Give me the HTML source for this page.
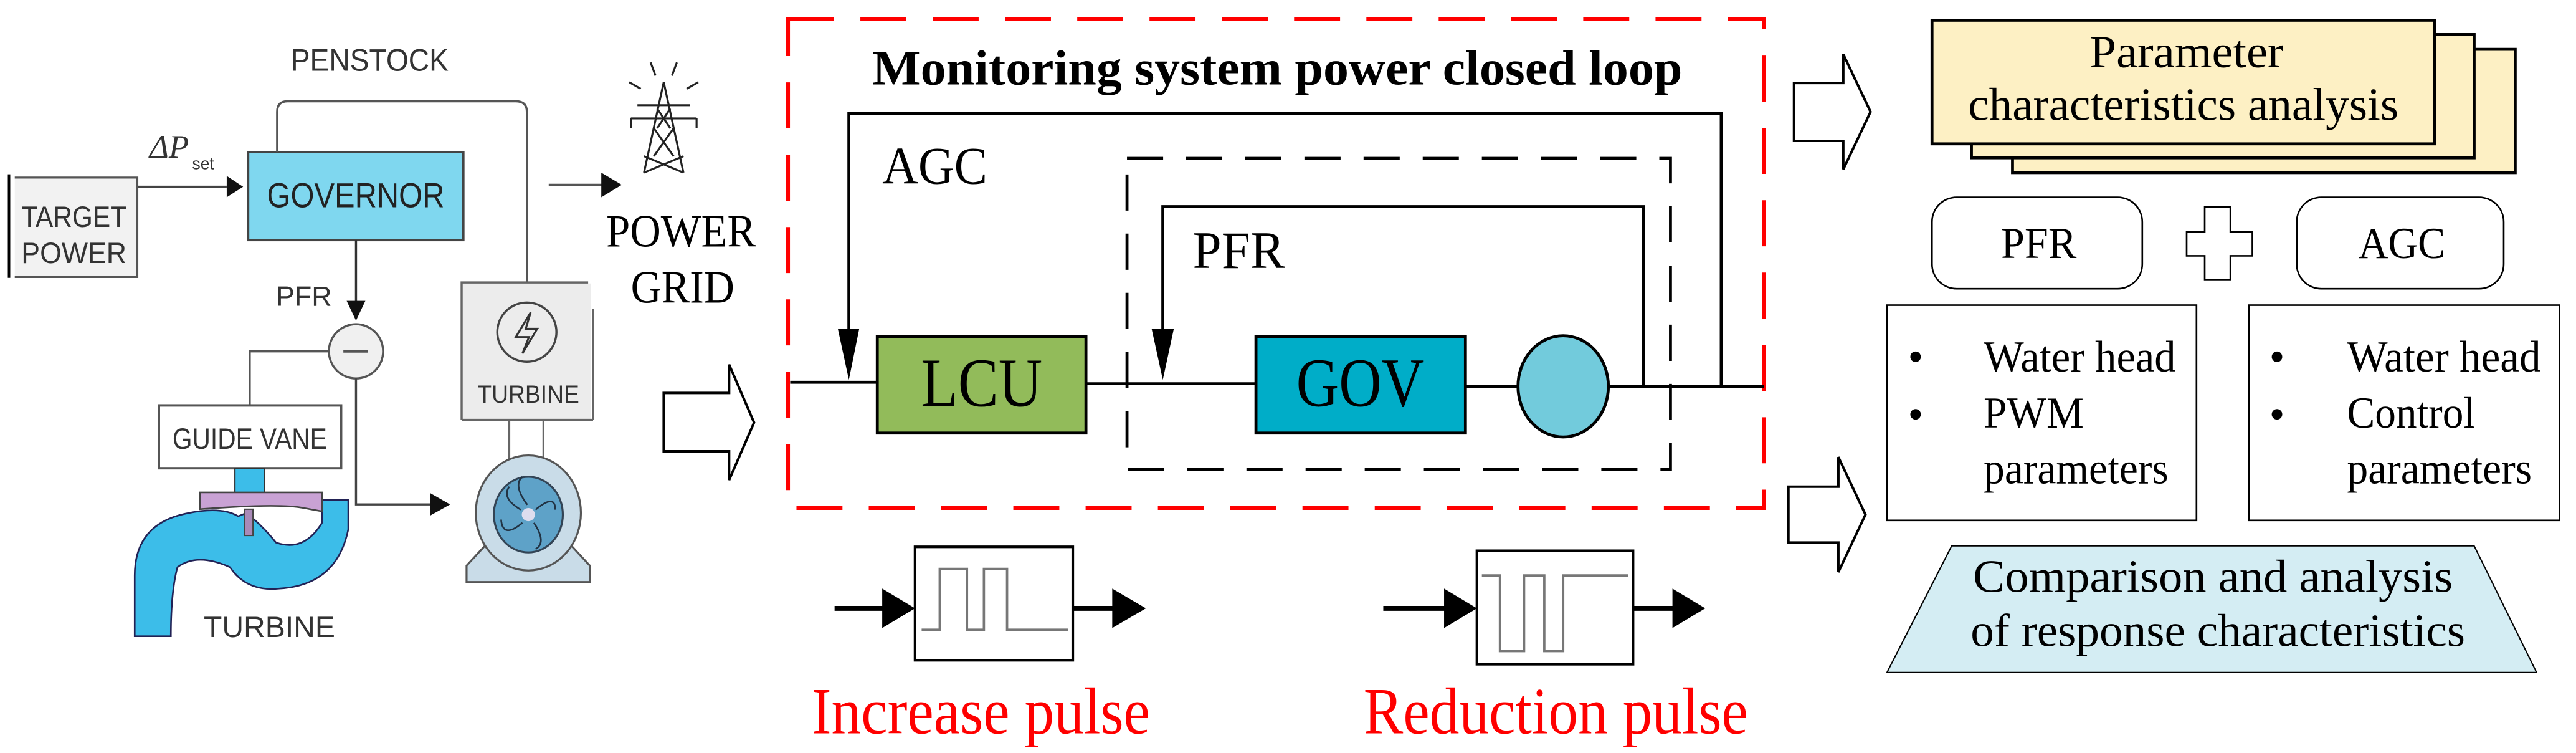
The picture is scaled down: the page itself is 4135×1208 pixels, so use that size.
<!DOCTYPE html>
<html><head><meta charset="utf-8"><style>
html,body{margin:0;padding:0;background:#fff;}
svg{display:block;}
</style></head><body>
<svg width="4135" height="1208" viewBox="0 0 1568 458" preserveAspectRatio="none" xmlns="http://www.w3.org/2000/svg">
<!-- LEFT SECTION -->
<g font-family="'Liberation Sans', sans-serif" fill="#333">
<line x1="5.5" y1="106" x2="5.5" y2="169" stroke="#000" stroke-width="1.5"/>
<path d="M9 108 H83.6 V168.5 H9" fill="#f2f2f2" stroke="#555" stroke-width="1.2"/>
<text x="45" y="138" font-size="18" text-anchor="middle" textLength="64" lengthAdjust="spacingAndGlyphs">TARGET</text>
<text x="45" y="160" font-size="18" text-anchor="middle" textLength="64" lengthAdjust="spacingAndGlyphs">POWER</text>
<text x="91" y="96" font-family="'Liberation Serif', serif" font-style="italic" font-size="20">ΔP</text>
<text x="117" y="103" font-size="10">set</text>
<line x1="84" y1="113.6" x2="138" y2="113.6" stroke="#444" stroke-width="1.3"/>
<path d="M138 107 L148 113.6 L138 120z" fill="#111"/>
<rect x="151" y="92.5" width="131" height="53.5" fill="#7fd7ef" stroke="#444" stroke-width="1.5"/>
<text x="216.5" y="126" font-size="21" text-anchor="middle" textLength="108" lengthAdjust="spacingAndGlyphs" fill="#222">GOVERNOR</text>
<path d="M168.7 92.5 V68 Q168.7 61.6 175 61.6 H314 Q320.7 61.6 320.7 68 V171.8" fill="none" stroke="#555" stroke-width="1.3"/>
<text x="225" y="43" font-size="19" text-anchor="middle" textLength="96" lengthAdjust="spacingAndGlyphs">PENSTOCK</text>
<line x1="334" y1="112.4" x2="368" y2="112.4" stroke="#555" stroke-width="1.3"/>
<path d="M366 105 L378.5 112.4 L366 120z" fill="#111"/>
<g stroke="#222" stroke-width="1.2" fill="none">
<path d="M392 105 L404 50 L416 105"/>
<path d="M398 78 L410 95 M410 78 L398 95 M400 66 L408 78 M408 66 L400 78 M392 105 L416 95 M416 105 L392 95"/>
<path d="M384 72 H424 M384 72 V78 M424 72 V78 M388 64 H420"/>
<path d="M396 38 L399 46 M412 38 L409 46 M383 50 L390 54 M425 50 L418 54"/>
</g>
<text x="369" y="150" font-family="'Liberation Serif', serif" fill="#000" font-size="28" textLength="91" lengthAdjust="spacingAndGlyphs">POWER</text>
<text x="384" y="184" font-family="'Liberation Serif', serif" fill="#000" font-size="28" textLength="63" lengthAdjust="spacingAndGlyphs">GRID</text>
<line x1="216.7" y1="146" x2="216.7" y2="186" stroke="#333" stroke-width="1.3"/>
<path d="M211 183 L216.7 195 L222.4 183z" fill="#111"/>
<text x="185" y="186" font-size="17" text-anchor="middle">PFR</text>
<ellipse cx="216.7" cy="213.7" rx="16.5" ry="16.5" fill="#f0f0f0" stroke="#555" stroke-width="1.3"/>
<line x1="209" y1="213.7" x2="224" y2="213.7" stroke="#555" stroke-width="1.6"/>
<path d="M200 213.7 H152 V246.6" fill="none" stroke="#555" stroke-width="1.3"/>
<rect x="96.7" y="246.6" width="110.9" height="38.2" fill="#fff" stroke="#555" stroke-width="1.5"/>
<text x="152" y="273" font-size="18" text-anchor="middle" textLength="94" lengthAdjust="spacingAndGlyphs">GUIDE VANE</text>
<path d="M216.7 230.2 V306.8 H262" fill="none" stroke="#444" stroke-width="1.3"/>
<path d="M262 300 L274 306.8 L262 313.5z" fill="#111"/>
<rect x="281.6" y="172.4" width="78" height="82.5" fill="#ececec"/>
<path d="M281 255.4 V171.8 H358" fill="none" stroke="#666" stroke-width="1.3"/>
<line x1="361" y1="188" x2="361" y2="255.4" stroke="#666" stroke-width="1.3"/>
<line x1="281" y1="255.4" x2="361" y2="255.4" stroke="#666" stroke-width="1.3"/>
<circle cx="320.7" cy="202" r="18" fill="none" stroke="#444" stroke-width="1.3"/>
<path d="M323 190 L314 205 H322 L318 215 L327 200 H320 Z" fill="none" stroke="#333" stroke-width="1.2"/>
<text x="321.6" y="245" font-size="15" text-anchor="middle" textLength="62" lengthAdjust="spacingAndGlyphs">TURBINE</text>
<rect x="310" y="255.4" width="20.8" height="24" fill="#fff" stroke="#666" stroke-width="1.2"/>
<path d="M284 354 V344 L297 330 H346 L359 344 V354 Z" fill="#c9dce8" stroke="#555" stroke-width="1.2"/>
<ellipse cx="321.6" cy="312" rx="32" ry="35" fill="#c9dce8" stroke="#555" stroke-width="1.2"/>
<ellipse cx="321.6" cy="313" rx="21" ry="23" fill="#5ea2c8" stroke="#345" stroke-width="1.2"/>
<g stroke="#234" stroke-width="1" fill="none">
<path d="M321 307 Q312 295 318 290 M326 310 Q338 300 338 310 M325 318 Q333 330 326 334 M318 318 Q306 328 305 316 M317 310 Q305 303 310 296"/>
</g>
<circle cx="321.6" cy="313" r="4" fill="#dde"/>
<path d="M82 387 V350 Q82 318 115 312 Q135 308 145 314 L150 312 Q160 320 168 330 Q185 336 196 318 V304 H212 V322 Q205 356 170 358 Q150 360 140 345 Q120 336 108 345 Q104 360 104 387 Z" fill="#3cbde9" stroke="#225" stroke-width="1"/>
<rect x="143" y="284.8" width="18" height="15" fill="#3cbde9" stroke="#333" stroke-width="0.8"/>
<path d="M121.6 299.5 H196 V311 L185 309 Q170 306 121.6 309.7 Z" fill="#c9a2d4" stroke="#444" stroke-width="1"/>
<rect x="149" y="309.7" width="5" height="16" fill="#a98ab8" stroke="#444" stroke-width="0.8"/>
<text x="164" y="387.5" font-size="18" text-anchor="middle" textLength="80" lengthAdjust="spacingAndGlyphs">TURBINE</text>
</g>
<path d="M404 239 H443.8 V221.7 L459 257 L443.8 292 V274.5 H404 Z" fill="#fff" stroke="#000" stroke-width="1.5"/>

<!-- MIDDLE SECTION -->
<g font-family="'Liberation Serif', serif" fill="#000">
<rect x="479.7" y="11.7" width="593.9" height="297.3" fill="none" stroke="#ff0000" stroke-width="2.3" stroke-dasharray="28,16"/>
<text x="531" y="51.4" font-size="30" font-weight="bold" textLength="493" lengthAdjust="spacingAndGlyphs">Monitoring system power closed loop</text>
<rect x="686" y="96.3" width="330.8" height="189.1" fill="none" stroke="#000" stroke-width="1.8" stroke-dasharray="22,14"/>
<path d="M516.7 212 V69 H1047.7 V235" fill="none" stroke="#000" stroke-width="1.8"/>
<path d="M510 200 L516.7 231 L523 200 z" fill="#000"/>
<text x="537" y="111.6" font-size="32" textLength="64" lengthAdjust="spacingAndGlyphs">AGC</text>
<path d="M707.8 212 V125.7 H1000.4 V235" fill="none" stroke="#000" stroke-width="1.8"/>
<path d="M701 200 L707.8 231 L714.5 200 z" fill="#000"/>
<text x="726" y="163" font-size="32" textLength="56" lengthAdjust="spacingAndGlyphs">PFR</text>
<line x1="481" y1="232.5" x2="534" y2="232.5" stroke="#000" stroke-width="1.8"/>
<line x1="661" y1="233.4" x2="764.5" y2="233.4" stroke="#000" stroke-width="1.8"/>
<line x1="892" y1="235" x2="924" y2="235" stroke="#000" stroke-width="1.8"/>
<line x1="979" y1="235" x2="1073.6" y2="235" stroke="#000" stroke-width="1.8"/>
<rect x="534" y="204.6" width="127" height="58.8" fill="#92bb5a" stroke="#000" stroke-width="1.8"/>
<text x="597.5" y="247" font-size="42" text-anchor="middle" textLength="74" lengthAdjust="spacingAndGlyphs">LCU</text>
<rect x="764.5" y="204.6" width="127.5" height="58.8" fill="#00adc8" stroke="#000" stroke-width="1.8"/>
<text x="828" y="247" font-size="42" text-anchor="middle" textLength="78" lengthAdjust="spacingAndGlyphs">GOV</text>
<ellipse cx="951.5" cy="235" rx="27.5" ry="30.8" fill="#72cbdc" stroke="#000" stroke-width="1.8"/>
<line x1="508" y1="370" x2="545" y2="370" stroke="#000" stroke-width="3"/>
<path d="M537 358 L557 370 L537 382z" fill="#000"/>
<rect x="557" y="332.6" width="96" height="69" fill="#fff" stroke="#000" stroke-width="1.6"/>
<polyline points="561,383 572,383 572,346 588.6,346 588.6,383 598.9,383 598.9,346 613,346 613,383 650,383" fill="none" stroke="#777" stroke-width="1.4"/>
<line x1="653" y1="370" x2="685" y2="370" stroke="#000" stroke-width="3"/>
<path d="M677 358 L697.5 370 L677 382z" fill="#000"/>
<line x1="842" y1="370" x2="888" y2="370" stroke="#000" stroke-width="3"/>
<path d="M879 358 L899 370 L879 382z" fill="#000"/>
<rect x="899" y="335" width="95" height="69" fill="#fff" stroke="#000" stroke-width="1.6"/>
<polyline points="902,350 913,350 913,396 927.7,396 927.7,350 940,350 940,396 951.5,396 951.5,350 991,350" fill="none" stroke="#777" stroke-width="1.4"/>
<line x1="994" y1="370" x2="1026" y2="370" stroke="#000" stroke-width="3"/>
<path d="M1018 358 L1038 370 L1018 382z" fill="#000"/>
<text x="597" y="446" font-size="40" text-anchor="middle" fill="#ff0000" textLength="206" lengthAdjust="spacingAndGlyphs">Increase pulse</text>
<text x="947" y="446" font-size="40" text-anchor="middle" fill="#ff0000" textLength="234" lengthAdjust="spacingAndGlyphs">Reduction pulse</text>
</g>

<!-- RIGHT SECTION -->
<g font-family="'Liberation Serif', serif" fill="#000">
<path d="M1092 50.5 H1122 V33 L1138.6 68 L1122 103 V85.7 H1092 Z" fill="#fff" stroke="#000" stroke-width="1.5"/>
<path d="M1088.6 296 H1119 V278 L1135.5 313 L1119 348 V330 H1088.6 Z" fill="#fff" stroke="#000" stroke-width="1.5"/>
<rect x="1225" y="30" width="306" height="75" fill="#fdf0c4" stroke="#000" stroke-width="1.8"/>
<rect x="1200" y="21" width="306" height="75" fill="#fdf0c4" stroke="#000" stroke-width="1.8"/>
<rect x="1176" y="12.3" width="306" height="75.2" fill="#fdf0c4" stroke="#000" stroke-width="1.8"/>
<text x="1331" y="41" font-size="28" text-anchor="middle" textLength="118" lengthAdjust="spacingAndGlyphs">Parameter</text>
<text x="1329" y="73" font-size="28" text-anchor="middle" textLength="262" lengthAdjust="spacingAndGlyphs">characteristics analysis</text>
<rect x="1176" y="120" width="128" height="55.6" rx="15" fill="#fff" stroke="#000" stroke-width="1"/>
<text x="1241" y="157" font-size="27" text-anchor="middle" textLength="46" lengthAdjust="spacingAndGlyphs">PFR</text>
<path d="M1342 126 H1357.6 V141 H1371 V155.6 H1357.6 V170 H1342 V155.6 H1331 V141 H1342 Z" fill="#fff" stroke="#000" stroke-width="1"/>
<rect x="1398" y="120" width="126" height="55.6" rx="15" fill="#fff" stroke="#000" stroke-width="1"/>
<text x="1462" y="157" font-size="27" text-anchor="middle" textLength="53" lengthAdjust="spacingAndGlyphs">AGC</text>
<rect x="1148.6" y="185.6" width="188.4" height="130.9" fill="#fff" stroke="#000" stroke-width="1"/>
<rect x="1369" y="185.6" width="189" height="130.9" fill="#fff" stroke="#000" stroke-width="1"/>
<circle cx="1166" cy="217" r="3.2" fill="#000"/>
<circle cx="1166" cy="252" r="3.2" fill="#000"/>
<text x="1207.4" y="226" font-size="27" textLength="117" lengthAdjust="spacingAndGlyphs">Water head</text>
<text x="1207.4" y="260" font-size="27" textLength="61" lengthAdjust="spacingAndGlyphs">PWM</text>
<text x="1207.4" y="294" font-size="27" textLength="112.5" lengthAdjust="spacingAndGlyphs">parameters</text>
<circle cx="1386" cy="217" r="3.2" fill="#000"/>
<circle cx="1386" cy="252" r="3.2" fill="#000"/>
<text x="1428.6" y="226" font-size="27" textLength="118" lengthAdjust="spacingAndGlyphs">Water head</text>
<text x="1428.6" y="260" font-size="27" textLength="78" lengthAdjust="spacingAndGlyphs">Control</text>
<text x="1428.6" y="294" font-size="27" textLength="112.5" lengthAdjust="spacingAndGlyphs">parameters</text>
<path d="M1188 332 H1506 L1544 409 H1148.6 Z" fill="#d4edf3" stroke="#000" stroke-width="0.8"/>
<text x="1347" y="360" font-size="28" text-anchor="middle" textLength="292" lengthAdjust="spacingAndGlyphs">Comparison and analysis</text>
<text x="1350" y="393" font-size="28" text-anchor="middle" textLength="301" lengthAdjust="spacingAndGlyphs">of response characteristics</text>
</g>
</svg>
</body></html>
